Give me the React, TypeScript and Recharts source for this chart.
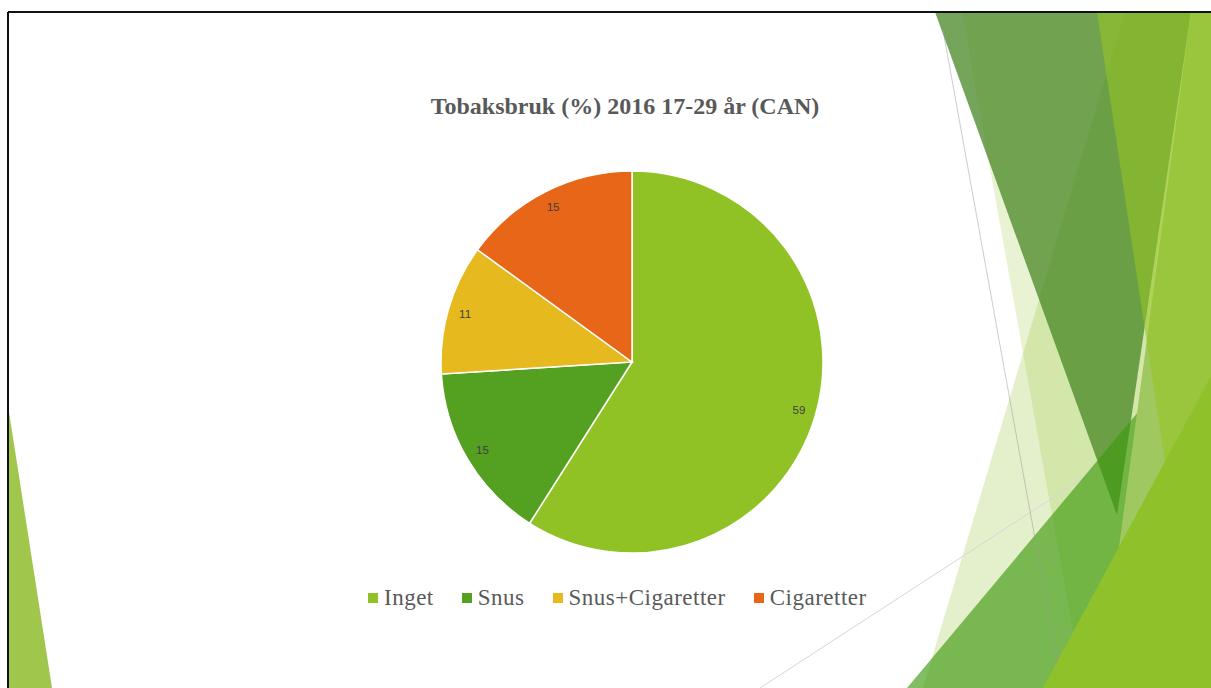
import { PieChart, Pie, Cell, Legend } from "recharts";

const title = "Tobaksbruk (%) 2016 17-29 år (CAN)";
const categories = ["Inget", "Snus", "Snus+Cigaretter", "Cigaretter"];
const values = [59, 15, 11, 15];
const colors = ["#90C226", "#54A021", "#E6B91E", "#E76618"];

const data = categories.map((name, i) => ({ name, value: values[i] }));

const RAD = Math.PI / 180;
const SERIF = "'Liberation Serif', 'DejaVu Serif', serif";

// data labels sit inside each slice, near the rim
const renderLabel = (p: any) => {
  const r = p.outerRadius * 0.91;
  const x = p.cx + r * Math.cos(-p.midAngle * RAD);
  const y = p.cy + r * Math.sin(-p.midAngle * RAD);
  return (
    <text
      x={x}
      y={y}
      fill="#404040"
      fontSize={11.5}
      fontFamily="'Liberation Sans', Arial, sans-serif"
      textAnchor="middle"
      dominantBaseline="central"
    >
      {p.value}
    </text>
  );
};

// legend keeps the series order of the data
const LegendContent = () => (
  <div
    style={{
      display: "flex",
      alignItems: "center",
      whiteSpace: "nowrap",
    }}
  >
    {categories.map((c, i) => (
      <span
        key={c}
        style={{ display: "flex", alignItems: "center", marginRight: 28 }}
      >
        <span
          style={{
            width: 10,
            height: 10,
            background: colors[i],
            marginRight: 6,
            display: "inline-block",
          }}
        />
        <span
          style={{
            fontFamily: SERIF,
            fontSize: 23,
            lineHeight: "26px",
            letterSpacing: "0.5px",
            color: "#595959",
          }}
        >
          {c}
        </span>
      </span>
    ))}
  </div>
);

// slide decoration (Facet-style facets), not data
const Backdrop = () => (
  <svg
    width={1211}
    height={688}
    style={{ position: "absolute", left: 0, top: 0 }}
  >
    <rect x={0} y={0} width={1211} height={688} fill="#ffffff" />
    <polygon points="962,12 1211,12 1211,688 1083,688" fill="#90c226" fillOpacity={0.2} />
    <polygon points="1125,12 1211,12 1211,688 923,688" fill="#90c226" fillOpacity={0.24} />
    <line x1={760} y1={688} x2={1211} y2={395} stroke="#d6d6d6" strokeWidth={1} />
    <polygon points="935,12 1191,12 1117,515" fill="#478723" fillOpacity={0.75} />
    <polygon points="907,688 1211,325 1211,688" fill="#3f9a10" fillOpacity={0.65} />
    <line x1={943} y1={30} x2={1062} y2={688} stroke="#9a9a9a" strokeOpacity={0.5} strokeWidth={1} />
    <polygon points="1191,12 1211,12 1211,688 1100,688" fill="#a0c860" />
    <polygon points="1097,12 1211,12 1211,688 1199,688" fill="#96c527" fillOpacity={0.6} />
    <polygon points="1043,688 1211,376 1211,688" fill="#8fc12a" />
    <polygon points="9,412 52,688 9,688" fill="#a0c64c" />
    <line x1={8} y1={12} x2={1211} y2={12} stroke="#111" strokeWidth={2} />
    <line x1={8} y1={12} x2={8} y2={688} stroke="#111" strokeWidth={2} />
  </svg>
);

export default function App() {
  return (
    <div
      style={{
        position: "absolute",
        left: 0,
        top: 0,
        width: 1211,
        height: 688,
        overflow: "hidden",
        background: "#fff",
      }}
    >
      <Backdrop />
      <div
        style={{
          position: "absolute",
          left: 325,
          top: 92,
          width: 600,
          textAlign: "center",
          fontFamily: SERIF,
          fontWeight: "bold",
          fontSize: 24,
          lineHeight: "28px",
          color: "#595959",
        }}
      >
        {title}
      </div>
      <div style={{ position: "absolute", left: 0, top: 0 }}>
        <PieChart width={1211} height={688} margin={{ top: 0, right: 0, bottom: 0, left: 0 }}>
          <Pie
            data={data}
            dataKey="value"
            nameKey="name"
            cx={632}
            cy={362}
            outerRadius={191}
            startAngle={90}
            endAngle={-270}
            stroke="#ffffff"
            strokeWidth={1.5}
            label={renderLabel}
            labelLine={false}
            isAnimationActive={false}
          >
            {data.map((d, i) => (
              <Cell key={d.name} fill={colors[i]} />
            ))}
          </Pie>
          <Legend
            verticalAlign="bottom"
            content={LegendContent}
            wrapperStyle={{ left: 368, top: 585, bottom: "auto", width: "auto" }}
          />
        </PieChart>
      </div>
    </div>
  );
}
